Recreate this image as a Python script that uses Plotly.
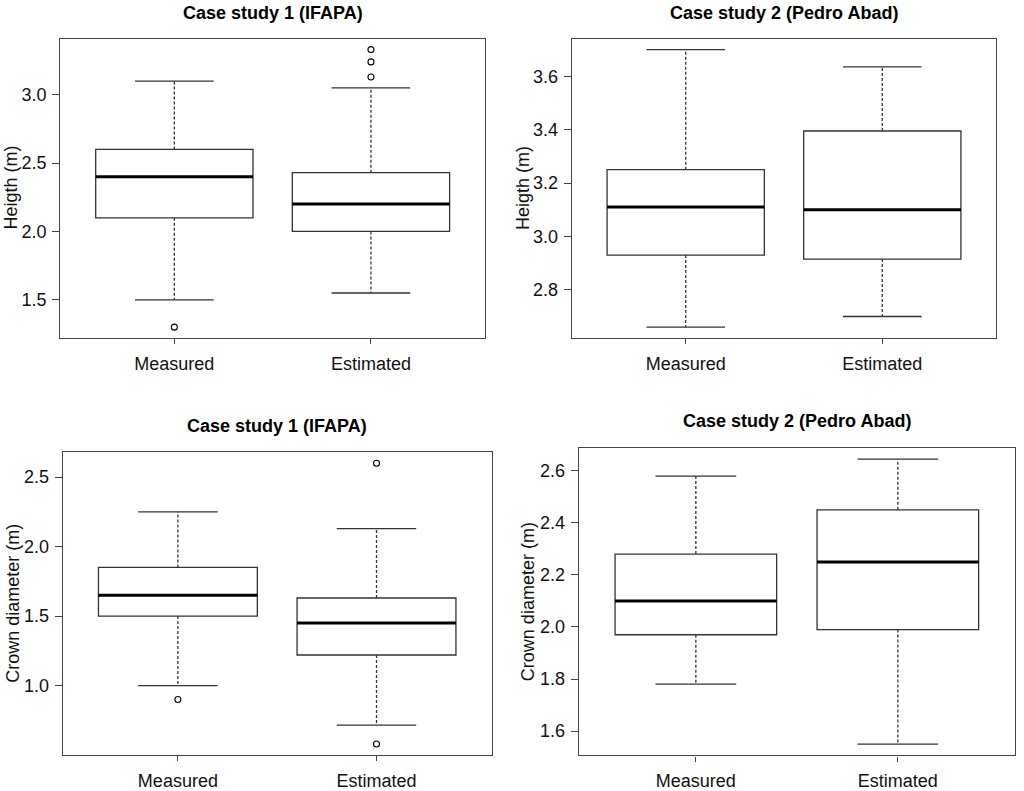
import plotly.graph_objects as go

# ---------------- data ----------------
categories = ["Measured", "Estimated"]
positions = [1, 2]

titles = ["Case study 1 (IFAPA)", "Case study 2 (Pedro Abad)",
          "Case study 1 (IFAPA)", "Case study 2 (Pedro Abad)"]
ytitles = ["Heigth (m)", "Heigth (m)", "Crown diameter (m)", "Crown diameter (m)"]

# panel 1: height, IFAPA
h1_q1 = [2.10, 2.00]
h1_med = [2.40, 2.20]
h1_q3 = [2.60, 2.43]
h1_lo = [1.50, 1.55]
h1_hi = [3.10, 3.05]
h1_out = [[1.30], [3.13, 3.24, 3.33]]
h1_ticks = [1.5, 2.0, 2.5, 3.0]

# panel 2: height, Pedro Abad
h2_q1 = [2.93, 2.915]
h2_med = [3.11, 3.10]
h2_q3 = [3.25, 3.395]
h2_lo = [2.66, 2.70]
h2_hi = [3.70, 3.635]
h2_out = [[], []]
h2_ticks = [2.8, 3.0, 3.2, 3.4, 3.6]

# panel 3: crown diameter, IFAPA
c1_q1 = [1.50, 1.22]
c1_med = [1.65, 1.45]
c1_q3 = [1.85, 1.63]
c1_lo = [1.00, 0.715]
c1_hi = [2.25, 2.13]
c1_out = [[0.90], [2.60, 0.58]]
c1_ticks = [1.0, 1.5, 2.0, 2.5]

# panel 4: crown diameter, Pedro Abad
c2_q1 = [1.97, 1.99]
c2_med = [2.10, 2.25]
c2_q3 = [2.28, 2.45]
c2_lo = [1.78, 1.55]
c2_hi = [2.58, 2.645]
c2_out = [[], []]
c2_ticks = [1.6, 1.8, 2.0, 2.2, 2.4, 2.6]

panels = [
    (h1_q1, h1_med, h1_q3, h1_lo, h1_hi, h1_out, h1_ticks),
    (h2_q1, h2_med, h2_q3, h2_lo, h2_hi, h2_out, h2_ticks),
    (c1_q1, c1_med, c1_q3, c1_lo, c1_hi, c1_out, c1_ticks),
    (c2_q1, c2_med, c2_q3, c2_lo, c2_hi, c2_out, c2_ticks),
]

# ---------------- layout geometry (pixels) ----------------
W, H = 1024, 791
plot_px = [  # x0, x1, y0(top), y1(bottom)
    (60.3, 485.0, 38.7, 340.0),
    (571.7, 996.3, 38.7, 340.0),
    (62.7, 491.7, 454.3, 759.0),
    (578.7, 1015.0, 450.0, 759.3),
]
title_px = [(272.7, 13), (784.0, 13), (277.2, 428), (796.8, 423)]
ytitle_px = [(11.5, 189), (523.0, 189), (12.2, 606.7), (527.5, 604.7)]

BOX_W = 0.8
CAP_W = 0.4
LINE_C = "#333333"
FONT = "Liberation Sans, Arial, Helvetica, sans-serif"

fig = go.Figure()
layout = dict(
    width=W, height=H, margin=dict(l=0, r=0, t=0, b=0),
    paper_bgcolor="white", plot_bgcolor="white", showlegend=False,
    font=dict(family=FONT, size=18, color="#111"),
    annotations=[],
)

for i, (q1, med, q3, lo, hi, out, ticks) in enumerate(panels):
    n = i + 1
    xa = "x" if n == 1 else f"x{n}"
    ya = "y" if n == 1 else f"y{n}"

    fig.add_trace(go.Box(
        x=positions, q1=q1, median=med, q3=q3, lowerfence=q1, upperfence=q3,
        width=BOX_W, whiskerwidth=0, fillcolor="white",
        line=dict(color=LINE_C, width=1.3), boxpoints=False,
        hoverinfo="skip", xaxis=xa, yaxis=ya,
    ))

    # dashed whiskers
    wx, wy = [], []
    for p, a, b, c, d in zip(positions, q1, lo, q3, hi):
        wx += [p, p, None, p, p, None]
        wy += [a, b, None, c, d, None]
    fig.add_trace(go.Scatter(x=wx, y=wy, mode="lines",
                             line=dict(color=LINE_C, width=1.3, dash="3px,2px"),
                             hoverinfo="skip", xaxis=xa, yaxis=ya))
    # whisker caps
    cx, cy = [], []
    for p, b, d in zip(positions, lo, hi):
        cx += [p - CAP_W / 2, p + CAP_W / 2, None, p - CAP_W / 2, p + CAP_W / 2, None]
        cy += [b, b, None, d, d, None]
    fig.add_trace(go.Scatter(x=cx, y=cy, mode="lines",
                             line=dict(color=LINE_C, width=1.3),
                             hoverinfo="skip", xaxis=xa, yaxis=ya))
    # thick medians
    mx, my = [], []
    for p, m in zip(positions, med):
        mx += [p - BOX_W / 2, p + BOX_W / 2, None]
        my += [m, m, None]
    fig.add_trace(go.Scatter(x=mx, y=my, mode="lines",
                             line=dict(color="black", width=3),
                             hoverinfo="skip", xaxis=xa, yaxis=ya))
    # outliers
    ox, oy = [], []
    for p, vals in zip(positions, out):
        for v in vals:
            ox.append(p)
            oy.append(v)
    if ox:
        fig.add_trace(go.Scatter(x=ox, y=oy, mode="markers",
                                 marker=dict(symbol="circle-open", size=6,
                                             color="black", line=dict(width=1.1)),
                                 hoverinfo="skip", xaxis=xa, yaxis=ya))

    # axis ranges (R style: data range extended by 4%)
    allv = list(lo) + list(hi) + [v for vals in out for v in vals]
    vmin, vmax = min(allv), max(allv)
    rr = vmax - vmin
    yr = [vmin - 0.04 * rr, vmax + 0.04 * rr]
    xr = [positions[0] - 0.5 - 0.04 * (len(positions)), positions[-1] + 0.5 + 0.04 * (len(positions))]

    x0, x1, y0, y1 = plot_px[i]
    layout[f"xaxis{n if n > 1 else ''}"] = dict(
        domain=[x0 / W, x1 / W], anchor=ya, range=xr,
        tickvals=positions, ticktext=categories,
        showgrid=False, zeroline=False, showline=True, mirror=True,
        linecolor="#444", linewidth=1.2, ticks="outside", ticklen=5,
        tickcolor="#444", tickwidth=1.2, ticklabelstandoff=4,
        tickfont=dict(size=18, color="#111", family=FONT),
    )
    layout[f"yaxis{n if n > 1 else ''}"] = dict(
        domain=[1 - y1 / H, 1 - y0 / H], anchor=xa, range=yr,
        tickvals=ticks, tickformat=".1f",
        showgrid=False, zeroline=False, showline=True, mirror=True,
        linecolor="#444", linewidth=1.2, ticks="outside", ticklen=7,
        tickcolor="#444", tickwidth=1.2, ticklabelstandoff=2,
        tickfont=dict(size=18, color="#111", family=FONT),
    )

    tx, ty = title_px[i]
    layout["annotations"].append(dict(
        text=f"<b>{titles[i]}</b>", x=tx / W, y=1 - ty / H, xref="paper", yref="paper",
        xanchor="center", yanchor="middle", showarrow=False,
        font=dict(size=18, color="black", family=FONT)))
    ax, ay = ytitle_px[i]
    layout["annotations"].append(dict(
        text=ytitles[i], x=ax / W, y=1 - ay / H, xref="paper", yref="paper",
        xanchor="center", yanchor="middle", showarrow=False, textangle=-90,
        font=dict(size=18, color="#111", family=FONT)))

fig.update_layout(**layout)
fig.write_html("out.html", config={"displayModeBar": False},
               post_script="document.body.style.margin='0';document.body.style.overflow='hidden';")
